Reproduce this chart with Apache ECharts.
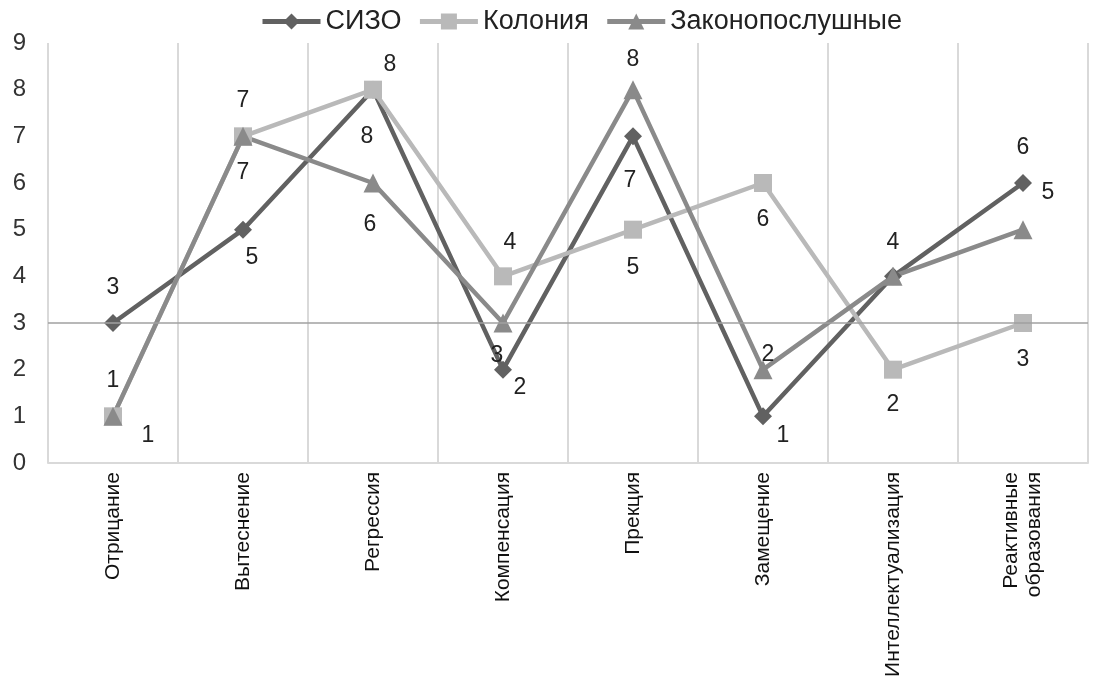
<!DOCTYPE html>
<html>
<head>
<meta charset="utf-8">
<script src="https://cdn.jsdelivr.net/npm/echarts@6/dist/echarts.min.js"></script>
<style>
  html, body { margin: 0; padding: 0; background: #fff; }
  #chart { width: 1104px; height: 692px; }
</style>
</head>
<body>
<div id="chart"></div>
<script>
var myChart = echarts.init(document.getElementById('chart'));

// категории и значения
var categories = ['Отрицание', 'Вытеснение', 'Регрессия', 'Компенсация', 'Прекция', 'Замещение', 'Интеллектуализация', 'Реактивные\nобразования'];
var sizo = [3, 5, 8, 2, 7, 1, 4, 6];
var koloniya = [1, 7, 8, 4, 5, 6, 2, 3];
var zakon = [1, 7, 6, 3, 8, 2, 4, 5];

// смещения подписей (null = подпись скрыта)
var sizoOffsets = [[0, -35], [9, 28], [-6, 47], [17, 18], [-3, 44], [20, 19], [0, -34], [0, -35]];
var kolOffsets = [[0, -36], [0, -36], [17, -25], [7, -34], [0, 38], [0, 37], [0, 35], [0, 37]];
var zakOffsets = [[35, 19], [0, 36], [-3, 42], [-6, 33], [0, -30], [5, -15], null, [25, -37]];

function withLabels(values, offsets) {
  return values.map(function (v, i) {
    var off = offsets[i];
    return {
      value: v,
      label: off ? { show: true, position: 'inside', offset: off } : { show: false }
    };
  });
}

var labelStyle = { fontSize: 23, color: '#222', fontFamily: 'Liberation Sans' };

function makeSeries(name, values, offsets, color, symbol, size) {
  return {
    name: name,
    type: 'line',
    data: withLabels(values, offsets),
    symbol: symbol,
    symbolSize: size,
    lineStyle: { color: color, width: 4.5 },
    itemStyle: { color: color },
    label: labelStyle,
    emphasis: { disabled: true }
  };
}

var series = [
  makeSeries('СИЗО', sizo, sizoOffsets, '#616161', 'diamond', 18),
  makeSeries('Колония', koloniya, kolOffsets, '#b9b9b9', 'rect', 18),
  makeSeries('Законопослушные', zakon, zakOffsets, '#8a8a8a', 'triangle', 19)
];
series[0].markLine = {
  silent: true,
  symbol: 'none',
  label: { show: false },
  lineStyle: { color: '#a0a0a0', width: 1.5, type: 'solid' },
  data: [{ yAxis: 3 }]
};

var option = {
  animation: false,
  textStyle: { fontFamily: 'Liberation Sans' },
  legend: {
    top: 3,
    left: 255,
    itemWidth: 58,
    itemHeight: 20,
    itemGap: 16,
    lineStyle: { width: 5 },
    textStyle: { fontSize: 27, color: '#222', fontFamily: 'Liberation Sans' },
    data: ['СИЗО', 'Колония', 'Законопослушные']
  },
  grid: { left: 48, right: 16, top: 43, bottom: 229 },
  xAxis: {
    type: 'category',
    data: categories,
    boundaryGap: true,
    axisLine: { lineStyle: { color: '#d9d9d9', width: 2 } },
    axisTick: { show: false },
    splitLine: { show: true, lineStyle: { color: '#d9d9d9', width: 2 } },
    axisLabel: {
      rotate: 90,
      interval: 0,
      margin: 9,
      fontSize: 21,
      lineHeight: 23,
      color: '#111',
      fontFamily: 'Liberation Sans'
    }
  },
  yAxis: {
    type: 'value',
    min: 0,
    max: 9,
    interval: 1,
    axisLine: { show: false },
    axisTick: { show: false },
    splitLine: { show: false },
    axisLabel: { fontSize: 24, color: '#333', margin: 22, fontFamily: 'Liberation Sans' }
  },
  series: series
};

myChart.setOption(option);
</script>
</body>
</html>
